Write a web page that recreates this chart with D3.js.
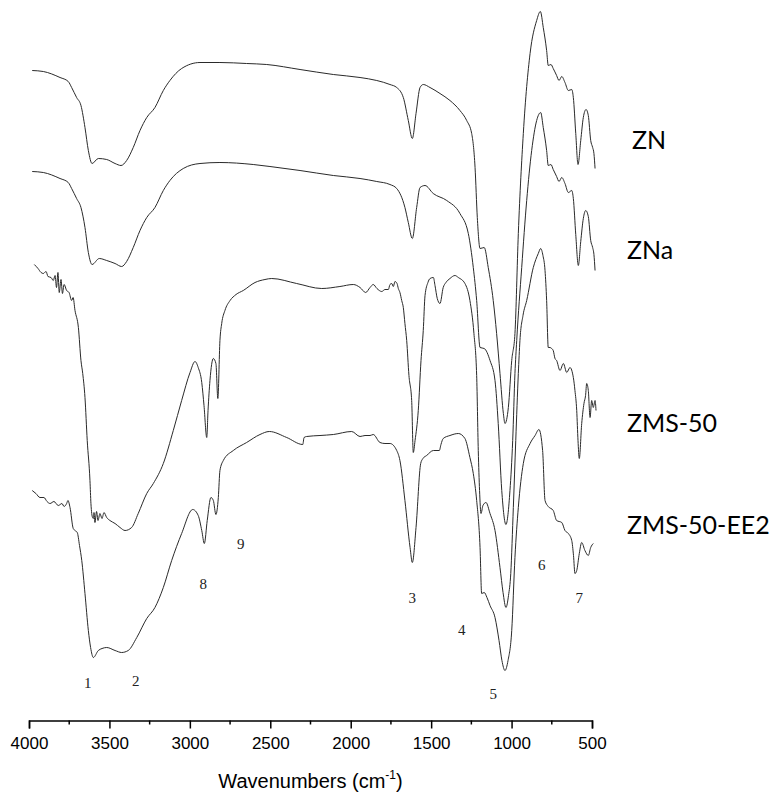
<!DOCTYPE html>
<html>
<head>
<meta charset="utf-8">
<script src="https://cdn.jsdelivr.net/npm/d3@7"></script>
<style>
  html, body { margin: 0; padding: 0; background: #fff; }
  svg { display: block; }
</style>
</head>
<body>
<svg id="chart" width="775" height="794"></svg>
<script>
// FTIR spectra, stacked with vertical offsets (transmittance, arbitrary units).
// Each series is a list of [wavenumber (cm-1), transmittance (a.u.)].

const seriesNames = ["ZN", "ZNa", "ZMS-50", "ZMS-50-EE2"];

const specZN = [
  [3980,650],[3911,649],[3807,643],[3756,639],[3735,633],[3704,623],[3677,615],[3652,593],
  [3631,570],[3608,557],[3569,562],[3517,561],[3465,557],[3428,555],[3393,560],[3352,573],
  [3310,590],[3268,603],[3217,613],[3165,630],[3124,640],[3051,652],[2937,658],[2813,658],
  [2647,657],[2522,656],[2315,651],[2108,646],[1942,643],[1838,640],[1756,636],[1714,633],
  [1673,623],[1642,600],[1617,582],[1594,607],[1569,633],[1549,636],[1507,633],[1445,627],
  [1383,620],[1321,610],[1279,600],[1248,587],[1227,553],[1213,503],[1196,472],[1170,473],
  [1145,453],[1114,420],[1093,387],[1072,347],[1051,307],[1041,297],[1020,313],[999,360],
  [979,387],[958,487],[927,587],[885,667],[844,700],[821,709],[803,693],[782,670],[772,655],
  [755,656],[741,652],[720,645],[705,640],[688,644],[668,638],[647,630],[626,631],[616,623],
  [601,587],[587,556],[570,580],[554,603],[537,611],[523,605],[508,580],[496,573],[488,567],
  [481,552]
];

const specZNa = [
  [3980,549],[3911,548],[3807,542],[3756,538],[3735,532],[3704,522],[3677,513],[3652,493],
  [3631,468],[3608,456],[3563,462],[3517,460],[3465,457],[3424,454],[3393,459],[3352,473],
  [3310,490],[3268,503],[3217,513],[3165,530],[3124,540],[3041,552],[2937,557],[2813,558],
  [2606,556],[2502,554],[2315,550],[2108,545],[1942,542],[1838,539],[1756,536],[1714,532],
  [1663,513],[1642,498],[1617,482],[1590,513],[1569,533],[1538,535],[1487,527],[1403,520],
  [1321,507],[1269,487],[1238,453],[1217,420],[1196,373],[1170,372],[1134,360],[1103,340],
  [1083,297],[1061,230],[1035,196],[1010,230],[993,280],[979,347],[968,380],[937,453],
  [906,520],[875,570],[844,600],[819,608],[803,593],[782,570],[772,555],[755,556],[741,551],
  [720,544],[705,539],[688,543],[668,537],[647,528],[626,530],[616,522],[601,486],[585,455],
  [570,479],[554,502],[539,510],[523,504],[508,480],[496,473],[488,466],[481,450]
];

const specZMS50 = [
  [3967,456],[3944,452],[3925,448],[3911,447],[3894,449],[3882,444],[3863,443],[3849,440],
  [3838,445],[3829,433],[3820,448],[3812,428],[3801,441],[3792,427],[3782,436],[3766,430],
  [3751,428],[3735,420],[3726,423],[3714,410],[3693,393],[3677,360],[3666,347],[3652,323],
  [3638,280],[3621,240],[3615,217],[3605,203],[3600,202],[3596,208],[3590,198],[3580,209],
  [3571,200],[3559,207],[3546,202],[3534,208],[3517,203],[3497,200],[3465,197],[3434,193],
  [3403,190],[3362,193],[3321,207],[3268,227],[3227,237],[3165,257],[3103,290],[3051,320],
  [2999,348],[2968,359],[2948,353],[2926,338],[2912,315],[2895,283],[2887,310],[2875,340],
  [2854,362],[2838,357],[2826,322],[2813,380],[2802,397],[2782,410],[2750,420],[2713,426],
  [2668,430],[2595,438],[2533,441],[2491,442],[2336,437],[2180,432],[2067,434],[1984,436],
  [1942,433],[1907,428],[1880,433],[1860,436],[1837,432],[1807,429],[1787,431],[1766,431],
  [1756,436],[1745,437],[1735,434],[1725,439],[1712,437],[1704,432],[1694,428],[1683,420],
  [1673,413],[1663,397],[1652,380],[1638,345],[1621,320],[1611,268],[1600,280],[1580,310],
  [1563,360],[1549,390],[1538,425],[1520,438],[1507,442],[1486,443],[1476,435],[1462,422],
  [1445,417],[1425,433],[1408,438],[1383,442],[1352,445],[1331,443],[1290,437],[1259,420],
  [1234,387],[1217,345],[1207,270],[1199,230],[1190,207],[1178,215],[1159,218],[1134,207],
  [1103,190],[1072,153],[1053,128],[1035,113],[1019,125],[1005,147],[989,213],[974,280],
  [958,347],[948,380],[929,405],[906,420],[865,453],[834,467],[819,472],[805,465],[792,450],
  [782,420],[772,373],[761,373],[751,372],[741,370],[730,362],[720,360],[699,350],[678,357],
  [657,348],[637,353],[616,343],[606,330],[595,310],[587,280],[579,262],[564,297],[550,317],
  [540,325],[533,337],[523,330],[512,303],[502,320],[492,313],[481,320],[475,310]
];

const specZMS50EE2 = [
  [3980,230],[3957,227],[3932,223],[3907,223],[3888,219],[3869,217],[3845,219],[3818,215],
  [3795,217],[3782,214],[3766,217],[3758,220],[3745,213],[3725,192],[3714,190],[3700,188],
  [3686,175],[3672,160],[3652,127],[3631,90],[3617,73],[3600,63],[3569,70],[3546,72],
  [3517,73],[3465,70],[3424,68],[3383,70],[3330,83],[3268,102],[3217,113],[3165,133],
  [3113,160],[3051,187],[2982,211],[2948,205],[2926,190],[2910,177],[2892,200],[2869,223],
  [2854,220],[2838,206],[2823,223],[2813,250],[2792,260],[2730,270],[2647,278],[2564,286],
  [2506,289],[2398,283],[2298,276],[2290,283],[2274,284],[2191,285],[2108,286],[1994,289],
  [1942,284],[1911,285],[1880,285],[1860,286],[1818,278],[1787,277],[1756,277],[1714,270],
  [1694,260],[1663,220],[1631,173],[1617,158],[1594,193],[1565,257],[1551,262],[1528,265],
  [1486,270],[1449,270],[1439,276],[1425,282],[1383,285],[1331,287],[1290,282],[1259,263],
  [1238,247],[1217,220],[1196,173],[1186,127],[1170,128],[1153,123],[1134,115],[1103,103],
  [1078,80],[1060,60],[1041,50],[1022,60],[999,90],[979,163],[958,213],[927,257],[885,277],
  [854,285],[830,291],[807,270],[792,220],[772,214],[741,210],[720,200],[688,198],[668,190],
  [647,187],[626,180],[615,165],[606,147],[595,150],[579,167],[564,178],[544,170],[523,165],
  [508,173],[492,177]
];

const spectra = [specZN, specZNa, specZMS50, specZMS50EE2];

// Band numbers: [label, wavenumber, transmittance (a.u.)]
const bandLabels = [
  ["1", 3635, 38], ["2", 3337, 40], ["8", 2916, 137], ["9", 2684, 177],
  ["3", 1617, 123], ["4", 1310, 91], ["5", 1114, 27], ["6", 813, 156], ["7", 579, 123]
];

// Series name labels: [name, transmittance level of the baseline (a.u.)]
const nameLevels = [572, 462, 289, 187];
const nameOffsets = [40, 35, 35, 35];

const majorTicks = [4000, 3500, 3000, 2500, 2000, 1500, 1000, 500];
const minorTicks = [3750, 3250, 2750, 2250, 1750, 1250, 750];

const svg = d3.select("#chart");

const x = d3.scaleLinear().domain([4000, 500]).range([29, 592]);
const y = d3.scaleLinear().domain([0, 720]).range([720.5, 0.5]);

const line = d3.line()
  .x(d => x(d[0]))
  .y(d => y(d[1]))
  .curve(d3.curveMonotoneX);

svg.append("g")
  .selectAll("path")
  .data(spectra)
  .join("path")
  .attr("d", line)
  .attr("fill", "none")
  .attr("stroke", "#2a2a2a")
  .attr("stroke-width", 1)
  .attr("stroke-linejoin", "round");

// Bottom axis
const axis = svg.append("g")
  .attr("transform", `translate(0,${y(0)})`)
  .call(d3.axisBottom(x)
    .tickValues(majorTicks)
    .tickFormat(d3.format("d"))
    .tickSize(8)
    .tickSizeOuter(8)
    .tickPadding(8));
axis.select(".domain").attr("stroke", "#000").attr("stroke-width", 1.5);
axis.selectAll(".tick line").attr("stroke", "#000").attr("stroke-width", 1.5);
axis.selectAll(".tick text")
  .attr("font-family", "'Liberation Sans', Arial, sans-serif")
  .attr("font-size", 17)
  .attr("fill", "#000");

axis.append("g")
  .selectAll("line")
  .data(minorTicks)
  .join("line")
  .attr("x1", d => x(d)).attr("x2", d => x(d))
  .attr("y1", 0).attr("y2", 4)
  .attr("stroke", "#000").attr("stroke-width", 1.5);

// Axis title
const title = svg.append("text")
  .attr("x", (x(4000) + x(500)) / 2)
  .attr("y", 788)
  .attr("text-anchor", "middle")
  .attr("font-family", "'Liberation Sans', Arial, sans-serif")
  .attr("font-size", 20)
  .attr("fill", "#000");
title.append("tspan").text("Wavenumbers (cm");
title.append("tspan").attr("font-size", 12).attr("dy", -9).text("-1");
title.append("tspan").attr("dy", 9).text(")");

// Band numbers
svg.append("g")
  .selectAll("text")
  .data(bandLabels)
  .join("text")
  .attr("x", d => x(d[1]))
  .attr("y", d => y(d[2]))
  .attr("dy", "0.35em")
  .attr("text-anchor", "middle")
  .attr("font-family", "'Liberation Serif', 'Times New Roman', serif")
  .attr("font-size", 15)
  .attr("fill", "#222")
  .text(d => d[0]);

// Series names
svg.append("g")
  .selectAll("text")
  .data(seriesNames)
  .join("text")
  .attr("x", (d, i) => x(500) + nameOffsets[i])
  .attr("y", (d, i) => y(nameLevels[i]))
  .attr("font-family", "Lato, 'Open Sans', sans-serif")
  .attr("font-size", 25)
  .attr("fill", "#000")
  .text(d => d);
</script>
</body>
</html>
